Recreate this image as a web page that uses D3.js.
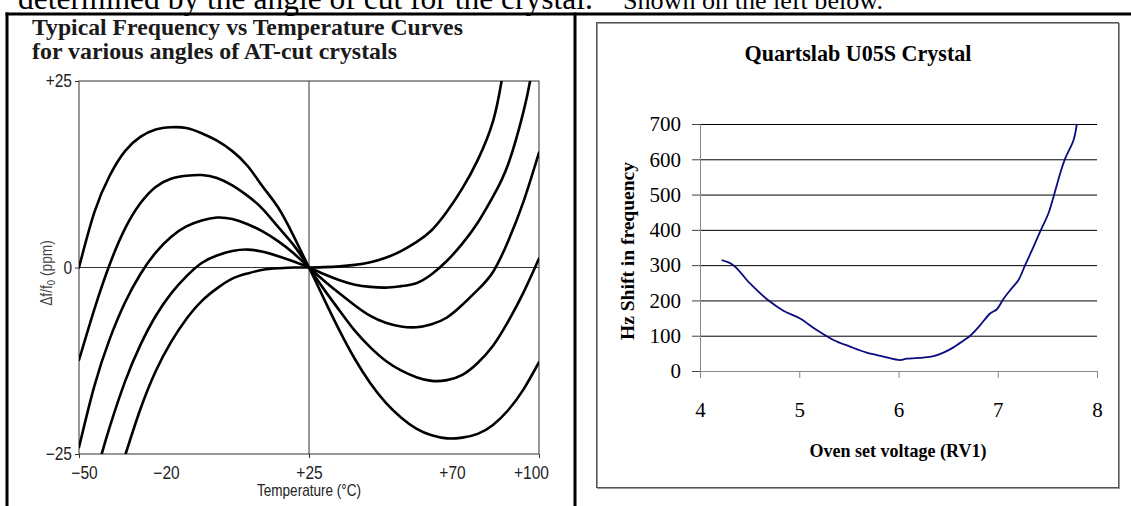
<!DOCTYPE html>
<html><head><meta charset="utf-8">
<script src="https://cdn.jsdelivr.net/npm/d3@7"></script>
<style>body{margin:0;background:#fff;} svg{display:block}</style>
</head><body><svg id="c" width="1131" height="506"></svg>
<script>
// ---------- data: left chart (frequency vs temperature, ppm) ----------
const tempsFull = [-50,-45,-40,-35,-30,-25,-20,-15,-10,-5,0,5,10,15,20,25,30,35,40,45,50,55,60,65,70,75,80,85,90,95,100];
const curveA = [0,7.4,12.3,15.6,17.5,18.5,18.8,18.7,18.0,17.0,15.6,13.6,10.8,8.0,4.2,0,-4.3,-8.5,-12.3,-15.5,-18.1,-20.1,-21.6,-22.5,-22.9,-22.8,-22.3,-21.1,-19.1,-16.3,-12.7];
const curveB = [-12.4,-5.6,0.4,5.2,8.6,10.8,11.9,12.3,12.4,12.0,11.0,9.6,7.8,5.4,3.0,0,-3.0,-5.8,-8.5,-10.7,-12.5,-13.8,-14.7,-15.2,-15.1,-14.4,-12.8,-10.5,-7.2,-3.3,1.2];
const curveC = [-24.1,-15.9,-9.6,-4.7,-0.9,2.0,4.1,5.5,6.3,6.7,6.5,5.8,4.8,3.5,1.9,0,-1.8,-3.5,-5.1,-6.5,-7.4,-7.9,-8.0,-7.6,-6.7,-5.0,-3.0,-0.6,3.6,8.9,15.4];
const tempsD = [-42.6,-40,-35,-30,-25,-20,-15,-10,-5,0,5,10,15,20,25,30,35,40,45,50,55,60,65,70,75,80,85,90,95,97.1];
const curveD = [-25,-21.4,-15.3,-10.4,-6.5,-3.5,-1.2,0.6,1.6,2.2,2.4,2.1,1.5,0.8,0,-0.9,-1.7,-2.3,-2.6,-2.7,-2.5,-2.1,-0.9,0.9,3.2,6.0,9.5,13.9,21.0,25];
const tempsE = [-34.8,-30,-25,-20,-15,-10,-5,0,5,10,15,20,25,30,35,40,45,50,55,60,65,70,75,80,85,87.8];
const curveE = [-25,-19.0,-13.9,-10.0,-6.9,-4.5,-2.8,-1.5,-0.8,-0.3,-0.1,0,0,0.05,0.15,0.35,0.7,1.3,2.2,3.4,5.0,7.5,10.6,14.4,19.6,25];
const leftYTicks = [25,0,-25];
const leftYLabels = ["+25","0","\u221225"];
const leftXTicks = [-50,-20,25,70,100];
const leftXLabels = ["\u221250","\u221220","+25","+70","+100"];

// ---------- data: right chart (Quartslab U05S) ----------
const ovenVolts = [4.219,4.336,4.504,4.672,4.840,5.008,5.176,5.344,5.512,5.680,5.848,6.016,6.083,6.251,6.352,6.453,6.554,6.654,6.722,6.823,6.923,6.991,7.057,7.125,7.209,7.276,7.360,7.427,7.511,7.562,7.629,7.679,7.763,7.797];
const shiftHz = [314,300,248,204,171,149,116,88,69,52,41,31,35,38,42,52,67,86,100,130,163,175,204,229,258,300,352,395,447,494,560,602,654,700];
const rightYTicks = [0,100,200,300,400,500,600,700];
const rightXTicks = [4,5,6,7,8];

// ---------- drawing ----------
const svg = d3.select('#c');
const serif = "'Liberation Serif','Times New Roman',serif";
const sans = "'Liberation Sans Narrow','Arial Narrow','Liberation Sans',Arial,sans-serif";

function fitWidth(sel, w){
  const n = sel.node();
  const fs = parseFloat(sel.attr('font-size'));
  const cur = n.getComputedTextLength();
  if (cur > 0) sel.attr('font-size', (fs * w / cur).toFixed(2));
}
function squeeze(sel, ratio){
  sel.each(function(){
    const w = this.getComputedTextLength();
    d3.select(this).attr('textLength', (w*ratio).toFixed(1)).attr('lengthAdjust','spacingAndGlyphs');
  });
}

svg.append('rect').attr('width',1131).attr('height',506).attr('fill','#fff');

// clipped running text at top
const t1 = svg.append('text').attr('x',18).attr('y',8.5).attr('font-family',serif).attr('font-size',27)
  .text('determined by the angle of cut for the crystal.');
fitWidth(t1, 575);
const t2 = svg.append('text').attr('x',623).attr('y',8.5).attr('font-family',serif).attr('font-size',27)
  .text('Shown on the left below.');
fitWidth(t2, 260);

// table borders
svg.append('line').attr('x1',5.5).attr('x2',1131).attr('y1',14).attr('y2',14).attr('stroke','#000').attr('stroke-width',3);
svg.append('line').attr('x1',7).attr('x2',7).attr('y1',12.5).attr('y2',506).attr('stroke','#000').attr('stroke-width',3);
svg.append('line').attr('x1',575).attr('x2',575).attr('y1',12.5).attr('y2',506).attr('stroke','#000').attr('stroke-width',3);

// ===== Left chart =====
const L = svg.append('g');
const xL = d3.scaleLinear().domain([-50,100]).range([79,539]);
const yL = d3.scaleLinear().domain([-25,25]).range([454,81]);

const ti1 = L.append('text').attr('x',32).attr('y',35).attr('font-family',serif).attr('font-weight','bold')
  .attr('font-size',20).attr('fill','#1a1a1a').text('Typical Frequency vs Temperature Curves');
fitWidth(ti1, 431);
const ti2 = L.append('text').attr('x',32).attr('y',59).attr('font-family',serif).attr('font-weight','bold')
  .attr('font-size',20).attr('fill','#1a1a1a').text('for various angles of AT-cut crystals');
fitWidth(ti2, 365);

L.append('rect').attr('x',xL(-50)).attr('y',yL(25)).attr('width',xL(100)-xL(-50)).attr('height',yL(-25)-yL(25))
  .attr('fill','none').attr('stroke','#333').attr('stroke-width',1);
L.append('line').attr('x1',xL(-50)).attr('x2',xL(100)).attr('y1',yL(0)).attr('y2',yL(0)).attr('stroke','#333');
L.append('line').attr('x1',xL(25)).attr('x2',xL(25)).attr('y1',yL(25)).attr('y2',yL(-25)).attr('stroke','#333');

const ayL = L.append('g').attr('transform',`translate(${xL(-50)},0)`)
  .call(d3.axisLeft(yL).tickValues(leftYTicks).tickSize(4).tickPadding(3)
    .tickFormat((d,i)=>leftYLabels[i]));
ayL.select('.domain').remove();
ayL.selectAll('line').attr('stroke','#333');
ayL.selectAll('text').attr('font-family',sans).attr('font-size',18).attr('fill','#222');
squeeze(ayL.selectAll('text'), 0.86);

const axL = L.append('g').attr('transform',`translate(0,${yL(-25)})`)
  .call(d3.axisBottom(xL).tickValues(leftXTicks).tickSize(4).tickPadding(8)
    .tickFormat((d,i)=>leftXLabels[i]));
axL.select('.domain').remove();
axL.selectAll('.tick').filter(d => d===-20 || d===70).select('line').remove();
axL.selectAll('line').attr('stroke','#333');
axL.selectAll('text').attr('font-family',sans).attr('font-size',18).attr('fill','#222');
squeeze(axL.selectAll('text'), 0.86);
axL.selectAll('.tick').filter(d => d===-50).select('text').attr('dx',5);
axL.selectAll('.tick').filter(d => d===-20).select('text').attr('dx',-5);
axL.selectAll('.tick').filter(d => d===70).select('text').attr('dx',5);
axL.selectAll('.tick').filter(d => d===100).select('text').attr('dx',-8);

const tl = L.append('text').attr('x',xL(25)).attr('y',496).attr('text-anchor','middle')
  .attr('font-family',sans).attr('font-size',17).attr('fill','#222').text('Temperature (\u00B0C)');
tl.attr('textLength',104).attr('lengthAdjust','spacingAndGlyphs');

const yl = L.append('text').attr('transform','translate(52,273) rotate(-90) scale(0.86,1)').attr('text-anchor','middle')
  .attr('font-family',sans).attr('font-size',16).attr('fill','#444');
yl.append('tspan').text('\u0394f/f');
yl.append('tspan').attr('font-size',11).attr('dy',3).text('0');
yl.append('tspan').attr('dy',-3).text(' (ppm)');

L.append('clipPath').attr('id','clipL').append('rect')
  .attr('x',xL(-50)).attr('y',yL(25)).attr('width',xL(100)-xL(-50)).attr('height',yL(-25)-yL(25));
const lineL = d3.line().x(d=>xL(d[0])).y(d=>yL(d[1])).curve(d3.curveNatural);
const curves = [
  d3.zip(tempsFull, curveA),
  d3.zip(tempsFull, curveB),
  d3.zip(tempsFull, curveC),
  d3.zip(tempsD, curveD),
  d3.zip(tempsE, curveE)
];
L.append('g').attr('clip-path','url(#clipL)').selectAll('path').data(curves).join('path')
  .attr('d', lineL).attr('fill','none').attr('stroke','#000').attr('stroke-width',2.6)
  .attr('stroke-linejoin','round').attr('stroke-linecap','round');

// ===== Right chart =====
const R = svg.append('g');
R.append('rect').attr('x',597.5).attr('y',23.5).attr('width',522).attr('height',465)
  .attr('fill','none').attr('stroke','#9a9a9a').attr('stroke-width',1);
R.append('rect').attr('x',596.5).attr('y',22.5).attr('width',522).attr('height',465)
  .attr('fill','none').attr('stroke','#555').attr('stroke-width',1);

const xR = d3.scaleLinear().domain([4,8]).range([700,1097]);
const yR = d3.scaleLinear().domain([0,700]).range([371,124]);

const rt = R.append('text').attr('x',858).attr('y',61).attr('text-anchor','middle').attr('font-family',serif)
  .attr('font-weight','bold').attr('font-size',19).attr('fill','#000').text('Quartslab U05S Crystal');
fitWidth(rt, 227);

R.append('g').selectAll('line').data(rightYTicks.filter(d=>d>0)).join('line')
  .attr('x1',xR(4)).attr('x2',xR(8)).attr('y1',d=>yR(d)+0.5).attr('y2',d=>yR(d)+0.5)
  .attr('stroke','#000').attr('stroke-width',1);

const ayR = R.append('g').attr('transform',`translate(${xR(4)},0)`)
  .call(d3.axisLeft(yR).tickValues(rightYTicks).tickSize(8).tickPadding(11).tickFormat(d3.format('d')));
ayR.select('.domain').attr('stroke','#888');
ayR.selectAll('line').attr('stroke','#444');
ayR.selectAll('text').attr('font-family',serif).attr('font-size',21).attr('fill','#000');

const axR = R.append('g').attr('transform',`translate(0,${yR(0)})`)
  .call(d3.axisBottom(xR).tickValues(rightXTicks).tickSize(7).tickPadding(24).tickFormat(d3.format('d')));
axR.select('.domain').attr('stroke','#888');
axR.selectAll('line').attr('stroke','#888');
axR.selectAll('text').attr('font-family',serif).attr('font-size',21).attr('fill','#000');

const xt = R.append('text').attr('x',898).attr('y',457).attr('text-anchor','middle').attr('font-family',serif)
  .attr('font-weight','bold').attr('font-size',16).attr('fill','#000').text('Oven set voltage (RV1)');
fitWidth(xt, 177);

const yt = R.append('text').attr('transform','translate(634,251) rotate(-90)').attr('text-anchor','middle')
  .attr('font-family',serif).attr('font-weight','bold').attr('font-size',17).attr('fill','#000')
  .text('Hz Shift in frequency');
fitWidth(yt, 178);

const lineR = d3.line().x(d=>xR(d[0])).y(d=>yR(d[1])).curve(d3.curveCatmullRom.alpha(0.5));
R.append('path').datum(d3.zip(ovenVolts, shiftHz)).attr('d', lineR)
  .attr('fill','none').attr('stroke','#0b0b80').attr('stroke-width',1.8);
</script>
</body></html>
